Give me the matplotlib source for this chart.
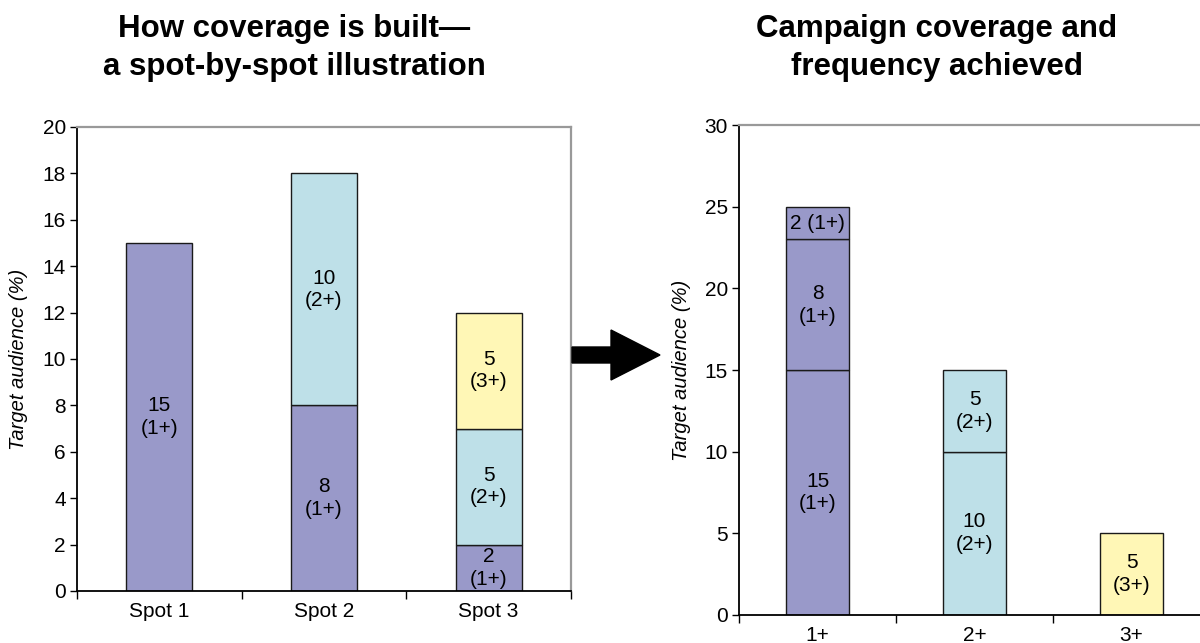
import matplotlib.pyplot as plt
from matplotlib.patches import Polygon

plt.rcParams['font.family'] = ['Liberation Sans', 'DejaVu Sans']

purple = '#9999C9'
blue = '#BEE0E8'
yellow = '#FFF7B6'

# spot-by-spot build: segments per bar, bottom to top
spots = ['Spot 1', 'Spot 2', 'Spot 3']
spot_values = [[15], [8, 10], [2, 5, 5]]
spot_levels = [['1+'], ['1+', '2+'], ['1+', '2+', '3+']]

# campaign totals by frequency
freqs = ['1+', '2+', '3+']
freq_values = [[15, 8, 2], [10, 5], [5]]
freq_levels = [['1+', '1+', '1+'], ['2+', '2+'], ['3+']]

level_colors = {'1+': purple, '2+': blue, '3+': yellow}

W, H = 1200, 643
fig = plt.figure(figsize=(W / 100, H / 100), dpi=100)


def px_axes(x0, x1, ytop, ybot):
    return fig.add_axes([x0 / W, (H - ybot) / H, (x1 - x0) / W, (ybot - ytop) / H])


def draw_panel(ax, cats, values, levels, ymax, ystep):
    for i, (vals, levs) in enumerate(zip(values, levels)):
        bottom = 0
        for v, lev in zip(vals, levs):
            ax.bar(i, v, bottom=bottom, width=0.4, color=level_colors[lev],
                   edgecolor='#1a1a1a', linewidth=1, zorder=2)
            if v / ymax < 0.08:
                txt = f'{v} ({lev})'
            else:
                txt = f'{v}\n({lev})'
            ax.text(i, bottom + v / 2, txt, ha='center', va='center',
                    fontsize=15, linespacing=1.25, zorder=3)
            bottom += v
    ax.set_xlim(-0.5, len(cats) - 0.5)
    ax.set_ylim(0, ymax)
    ax.set_yticks(range(0, ymax + 1, ystep))
    ax.set_xticks(range(len(cats)))
    ax.set_xticklabels(cats)
    ax.set_xticks([i - 0.5 for i in range(len(cats) + 1)], minor=True)
    ax.tick_params(axis='x', which='major', length=0, pad=8, labelsize=15)
    ax.tick_params(axis='x', which='minor', length=6, width=1, direction='out')
    ax.tick_params(axis='y', length=5, width=1, direction='out', pad=3,
                   labelsize=15)
    for side in ('left', 'bottom'):
        ax.spines[side].set_color('black')
        ax.spines[side].set_linewidth(1.3)
    for side in ('top', 'right'):
        ax.spines[side].set_color('#999999')
        ax.spines[side].set_linewidth(1.6)
    ax.set_ylabel('Target audience (%)', fontsize=14.5, style='italic')


ax1 = px_axes(77, 571, 127, 591)
draw_panel(ax1, spots, spot_values, spot_levels, 20, 2)
ax1.yaxis.set_label_coords(-0.099, 0.5)

ax2 = px_axes(739, 1210, 125, 615)
draw_panel(ax2, freqs, freq_values, freq_levels, 30, 5)
ax2.yaxis.set_label_coords(-0.102, 0.5)

fig.text(294 / W, 1 - 48 / H, 'How coverage is built—\na spot-by-spot illustration',
         ha='center', va='center', fontsize=22.5, fontweight='bold', linespacing=1.32)
fig.text(937 / W, 1 - 48 / H, 'Campaign coverage and\nfrequency achieved',
         ha='center', va='center', fontsize=22.5, fontweight='bold', linespacing=1.32)

# block arrow between the panels, in pixel units
arrow_px = [(572, 347), (611, 347), (611, 330), (660, 355),
            (611, 380), (611, 363), (572, 363)]
arrow = Polygon([(x / W, 1 - y / H) for x, y in arrow_px], closed=True,
                facecolor='black', edgecolor='black', transform=fig.transFigure)
fig.patches.append(arrow)

fig.savefig('out.png', dpi=100)
